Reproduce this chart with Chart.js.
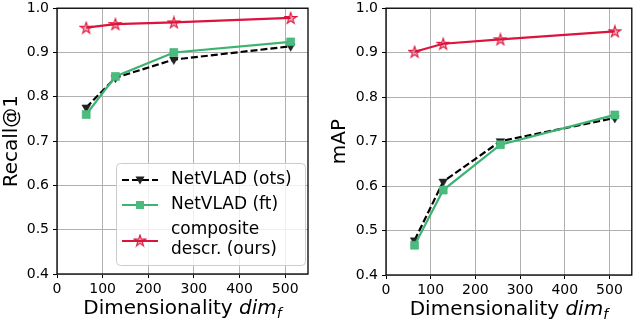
<!DOCTYPE html>
<html><head><meta charset="utf-8">
<script src="https://cdn.jsdelivr.net/npm/chart.js@4.4.1/dist/chart.umd.min.js"></script>
<style>
html,body{margin:0;padding:0;background:#fff;width:640px;height:322px;overflow:hidden}
canvas{position:absolute;top:0}
#c1{left:0}#c2{left:320px}
</style></head><body>
<canvas id="c1" width="320" height="322"></canvas>
<canvas id="c2" width="320" height="322"></canvas>
<script>
// ---- data ----
const dims = [64, 128, 256, 512];
const xTicks = [0, 100, 200, 300, 400, 500];
const yTicks = [0.4, 0.5, 0.6, 0.7, 0.8, 0.9, 1.0];
const seriesNames = ['NetVLAD (ots)', 'NetVLAD (ft)', ['composite', 'descr. (ours)']];
const recallOts  = [0.776, 0.843, 0.884, 0.914];
const recallFt   = [0.760, 0.846, 0.900, 0.924];
const recallOurs = [0.956, 0.964, 0.968, 0.978];
const mapOts  = [0.478, 0.610, 0.701, 0.753];
const mapFt   = [0.467, 0.591, 0.693, 0.760];
const mapOurs = [0.902, 0.920, 0.930, 0.948];

const FONT = "'DejaVu Sans', sans-serif";
const RED = '#dc143c', GREEN = '#3cb371', BLACK = '#000000';

function starPath(ctx, cx, cy, R) {
  const r = R * 0.381966;
  ctx.beginPath();
  for (let i = 0; i < 10; i++) {
    const rad = (i % 2 === 0) ? R : r;
    const a = -Math.PI / 2 + i * Math.PI / 5;
    const x = cx + rad * Math.cos(a), y = cy + rad * Math.sin(a);
    if (i === 0) ctx.moveTo(x, y); else ctx.lineTo(x, y);
  }
  ctx.closePath();
}
function makeStar() {
  const c = document.createElement('canvas');
  c.width = 14; c.height = 14;
  const g = c.getContext('2d');
  starPath(g, 7, 7.5, 6);
  g.fillStyle = 'rgba(220,20,60,0.3)';
  g.fill();
  g.strokeStyle = RED; g.lineWidth = 1.1; g.stroke();
  return c;
}
const starImg = makeStar();

function pts(vals) { return dims.map((d, i) => ({x: d, y: vals[i]})); }

const framePlugin = {
  id: 'frame',
  afterDraw(chart) {
    const {ctx, chartArea: a} = chart;
    ctx.save();
    ctx.strokeStyle = '#000'; ctx.lineWidth = 1.3;
    ctx.strokeRect(a.left, a.top, a.right - a.left, a.bottom - a.top);
    // x title with italic subscript
    const base = chart.options.plugins.frame.titleY;
    const p1 = 'Dimensionality ', p2 = 'dim', p3 = 'f';
    ctx.fillStyle = '#000';
    ctx.textBaseline = 'alphabetic';
    ctx.font = '20px ' + FONT; const w1 = ctx.measureText(p1).width;
    ctx.font = 'italic 20px ' + FONT; const w2 = ctx.measureText(p2).width;
    ctx.font = 'italic 14px ' + FONT; const w3 = ctx.measureText(p3).width;
    let x = (a.left + a.right) / 2 - (w1 + w2 + w3) / 2;
    ctx.textAlign = 'left';
    ctx.font = '20px ' + FONT; ctx.fillText(p1, x, base); x += w1;
    ctx.font = 'italic 20px ' + FONT; ctx.fillText(p2, x, base); x += w2;
    ctx.font = 'italic 14px ' + FONT; ctx.fillText(p3, x, base + 4);
    ctx.restore();
  }
};

const legendPlugin = {
  id: 'boxLegend',
  afterDraw(chart) {
    const o = chart.options.plugins.boxLegend;
    if (!o || !o.show) return;
    const ctx = chart.ctx;
    ctx.save();
    const bx = 116.5, by = 163.5, bw = 189, bh = 102, rr = 4;
    ctx.beginPath();
    ctx.roundRect(bx, by, bw, bh, rr);
    ctx.fillStyle = 'rgba(255,255,255,0.8)'; ctx.fill();
    ctx.strokeStyle = '#cccccc'; ctx.lineWidth = 1; ctx.stroke();
    const x0 = 122, x1 = 158, xm = 140, tx = 171;
    const rows = [
      {y: 180, color: BLACK, dash: [7, 3], marker: 'tri', text: [seriesNames[0]], ty: [180]},
      {y: 205, color: GREEN, dash: [], marker: 'sq', text: [seriesNames[1]], ty: [205]},
      {y: 241, color: RED, dash: [], marker: 'star', text: seriesNames[2], ty: [230, 250]}
    ];
    ctx.font = '17px ' + FONT;
    ctx.textAlign = 'left'; ctx.textBaseline = 'middle';
    rows.forEach(r => {
      ctx.beginPath(); ctx.setLineDash(r.dash);
      ctx.strokeStyle = r.color; ctx.lineWidth = 2.2;
      ctx.moveTo(x0, r.y); ctx.lineTo(x1, r.y); ctx.stroke();
      ctx.setLineDash([]);
      if (r.marker === 'tri') {
        ctx.beginPath();
        ctx.moveTo(xm - 4.5, r.y - 3.5); ctx.lineTo(xm + 4.5, r.y - 3.5); ctx.lineTo(xm, r.y + 4.5);
        ctx.closePath(); ctx.fillStyle = '#222'; ctx.fill();
      } else if (r.marker === 'sq') {
        ctx.fillStyle = '#4cbb7e'; ctx.fillRect(xm - 4, r.y - 4, 8, 8);
      } else {
        ctx.drawImage(starImg, xm - 7, r.y - 7.5);
      }
      ctx.fillStyle = '#000';
      r.text.forEach((t, i) => ctx.fillText(t, tx, r.ty[i]));
    });
    ctx.restore();
  }
};

function makeChart(id, yTitle, ots, ft, ours, cfg) {
  return new Chart(document.getElementById(id), {
    type: 'line',
    data: {
      datasets: [
        {label: 'composite descr. (ours)', data: pts(ours), borderColor: RED, borderWidth: 2.2,
         pointStyle: starImg, pointRadius: 6, pointHoverRadius: 6, tension: 0},
        {label: seriesNames[1], data: pts(ft), borderColor: GREEN, borderWidth: 2.2,
         pointStyle: 'rect', pointRadius: 5.6, backgroundColor: '#4cbb7e', pointBorderColor: 'rgba(60,179,113,0.6)',
         pointBorderWidth: 1, tension: 0},
        {label: seriesNames[0], data: pts(ots), borderColor: BLACK, borderWidth: 2.2, borderDash: [7, 3],
         pointStyle: 'triangle', pointRotation: 180, pointRadius: 5, backgroundColor: '#222',
         pointBorderColor: '#222', pointBorderWidth: 0.5, tension: 0}
      ]
    },
    options: {
      responsive: false, animation: false, devicePixelRatio: 1,
      layout: {padding: {left: 0, top: 6, right: cfg.padRight, bottom: 0}},
      plugins: {
        legend: {display: false}, tooltip: {enabled: false},
        frame: {titleY: cfg.titleY},
        boxLegend: {show: cfg.legend}
      },
      scales: {
        x: {
          type: 'linear', min: 0, max: 550,
          afterBuildTicks: s => { s.ticks = xTicks.map(v => ({value: v})); },
          afterFit: s => { s.height = cfg.xHeight; s.paddingLeft = 0; s.paddingRight = 0; },
          ticks: {font: {family: FONT, size: 14}, color: '#000', padding: 3, maxRotation: 0,
                  callback: v => String(v)},
          grid: {color: '#b0b0b0', lineWidth: 1, tickColor: '#000', tickLength: 4},
          border: {display: false}
        },
        y: {
          min: 0.4, max: 1.0,
          afterBuildTicks: s => { s.ticks = yTicks.map(v => ({value: v})); },
          afterFit: s => { s.width = cfg.yWidth; s.paddingTop = 0; s.paddingBottom = 0; },
          ticks: {font: {family: FONT, size: 14}, color: '#000', padding: 4,
                  callback: v => Number(v).toFixed(1)},
          grid: {color: '#b0b0b0', lineWidth: 1, tickColor: '#000', tickLength: 4},
          border: {display: false},
          title: {display: true, text: yTitle, color: '#000', font: {family: FONT, size: 20},
                  padding: {top: cfg.titlePad, bottom: 0}}
        }
      }
    },
    plugins: [framePlugin, legendPlugin]
  });
}

makeChart('c1', 'Recall@1', recallOts, recallFt, recallOurs,
  {padRight: 12, yWidth: 57, xHeight: 48, titleY: 314, titlePad: 0, legend: true});
makeChart('c2', 'mAP', mapOts, mapFt, mapOurs,
  {padRight: 2, yWidth: 66, xHeight: 47, titleY: 315, titlePad: 8, legend: false});
</script>
</body></html>
